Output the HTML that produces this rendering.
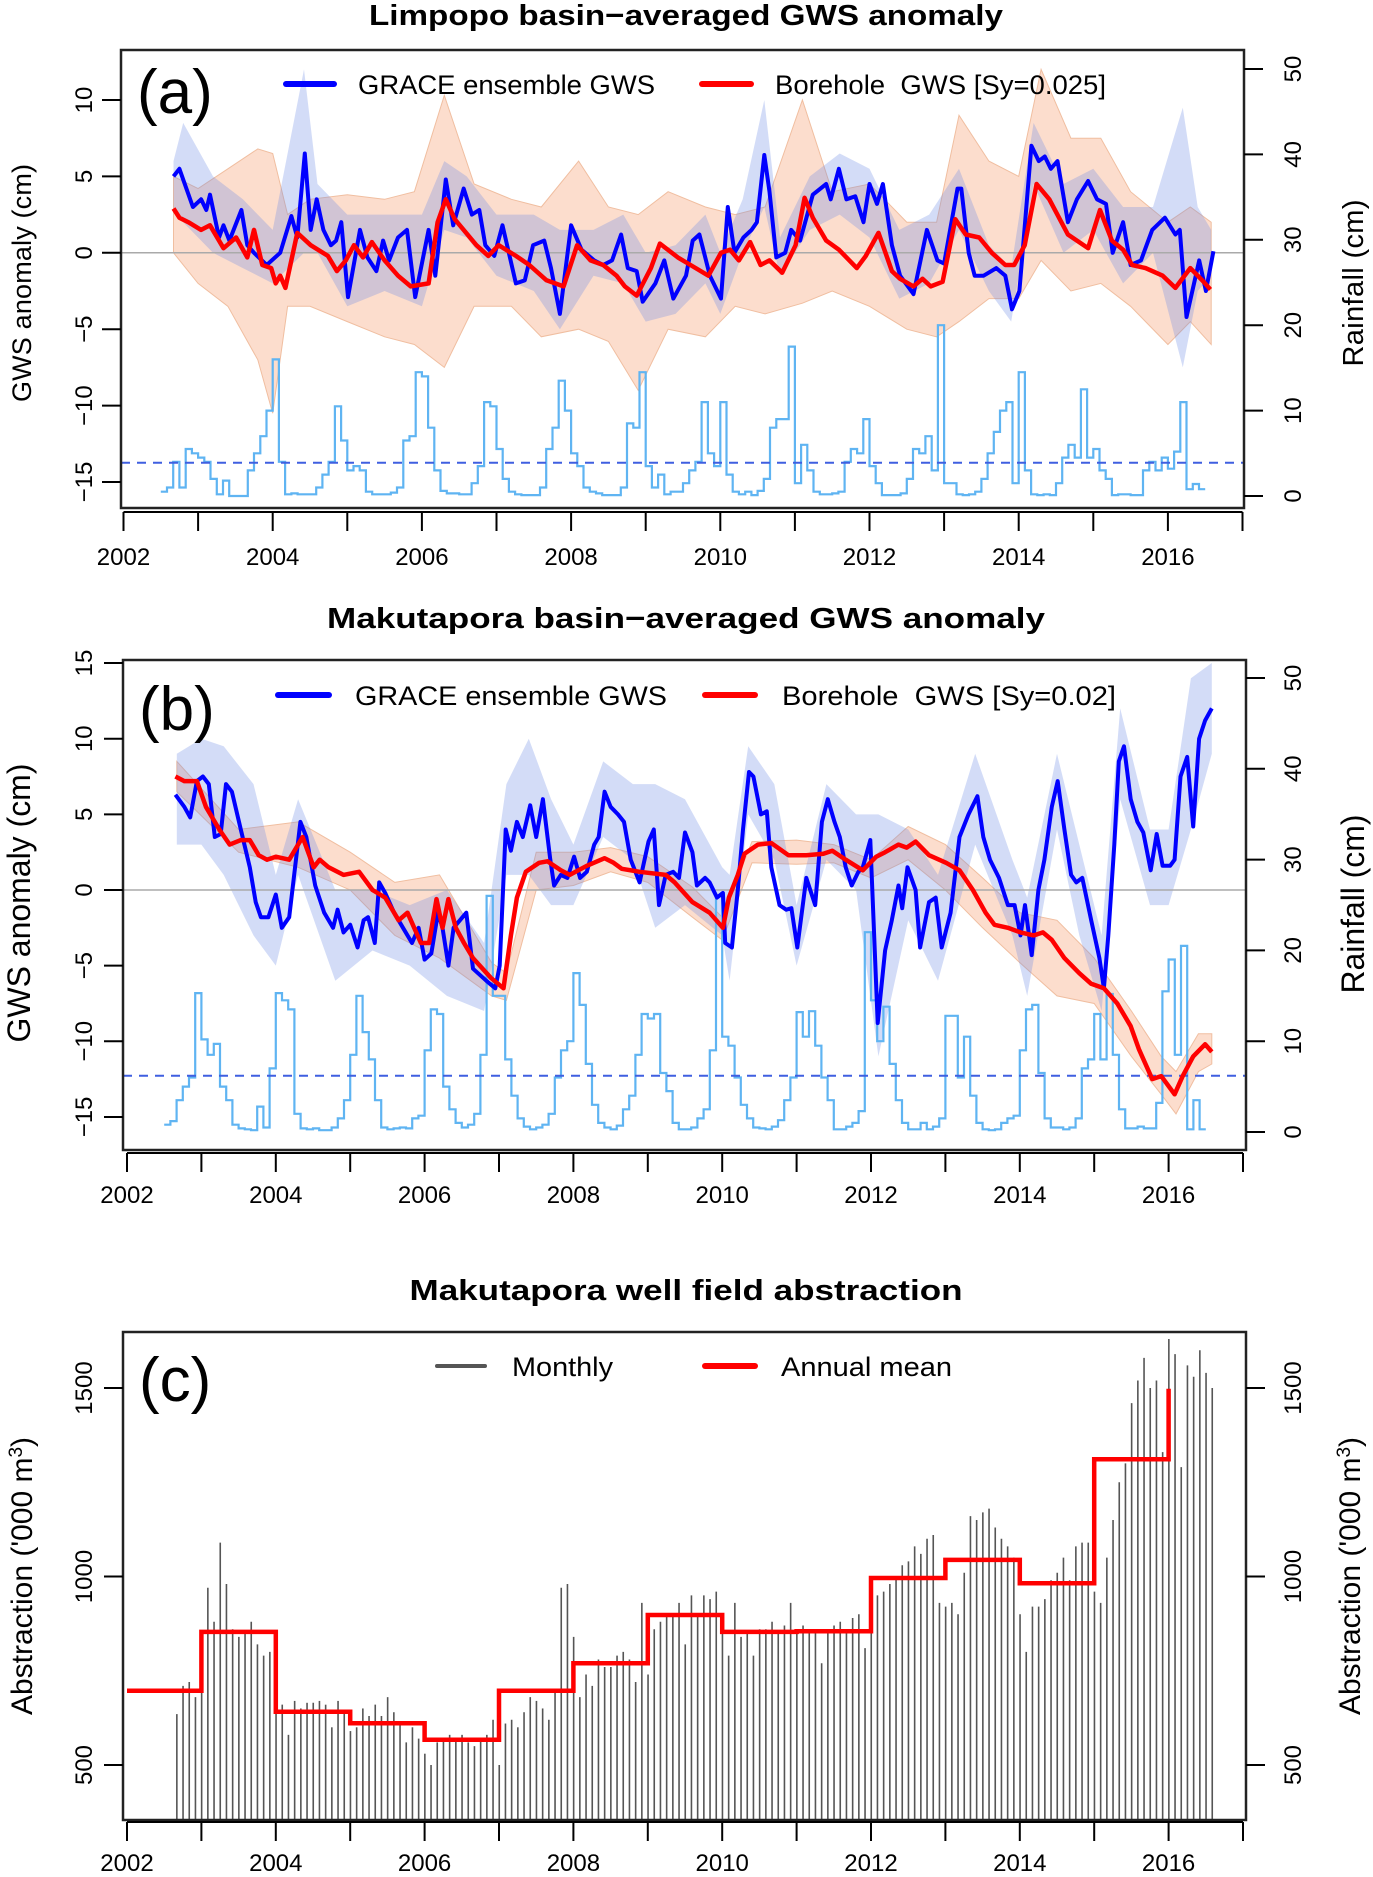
<!DOCTYPE html>
<html><head><meta charset="utf-8"><title>GWS anomaly figure</title>
<style>
html,body{margin:0;padding:0;background:#fff;}
svg{display:block;font-family:"Liberation Sans",Arial,sans-serif;}
text{white-space:pre;}
</style></head>
<body>
<svg id="fig" width="1373" height="1877" viewBox="0 0 1373 1877" xmlns="http://www.w3.org/2000/svg">
<defs>
<clipPath id="clipA"><rect x="121" y="50" width="1123" height="458"/></clipPath>
<clipPath id="clipB"><rect x="123" y="660" width="1123" height="490"/></clipPath>
<clipPath id="clipC"><rect x="123" y="1332" width="1123" height="488"/></clipPath>
</defs>
</svg>
<script>
// ---------- Panel (a) Limpopo data ----------
const limBlueT=[2002.67,2002.75,2002.93,2003.04,2003.11,2003.16,2003.28,2003.34,2003.42,2003.58,2003.66,2003.75,2003.92,2004.10,2004.25,2004.33,2004.43,2004.51,2004.59,2004.68,2004.78,2004.85,2004.92,2005.01,2005.17,2005.27,2005.39,2005.48,2005.56,2005.68,2005.80,2005.91,2006.09,2006.18,2006.32,2006.42,2006.56,2006.67,2006.77,2006.85,2006.97,2007.08,2007.26,2007.38,2007.49,2007.64,2007.73,2007.85,2008.00,2008.14,2008.31,2008.43,2008.55,2008.67,2008.76,2008.88,2008.96,2009.13,2009.25,2009.37,2009.54,2009.63,2009.72,2009.86,2010.01,2010.10,2010.19,2010.31,2010.42,2010.49,2010.59,2010.66,2010.75,2010.87,2010.95,2011.07,2011.24,2011.42,2011.48,2011.59,2011.69,2011.81,2011.92,2012.00,2012.10,2012.18,2012.30,2012.41,2012.59,2012.77,2012.91,2013.00,2013.18,2013.23,2013.33,2013.41,2013.53,2013.70,2013.82,2013.91,2014.01,2014.17,2014.27,2014.35,2014.43,2014.52,2014.66,2014.78,2014.93,2015.05,2015.17,2015.26,2015.40,2015.50,2015.64,2015.79,2015.96,2016.10,2016.16,2016.25,2016.42,2016.51,2016.61];
const limBlueV=[5,5.5,3,3.5,2.8,3.8,1,1.8,0.8,2.8,0.5,0,-0.8,0,2.4,1,6.5,1.5,3.5,1.5,0.5,0.8,2,-2.9,1.5,-0.3,-1.2,0.8,-0.5,1,1.5,-2.9,1.5,-1.5,4.8,1.8,4.2,2.5,2.8,0.5,-0.2,1.8,-2,-1.8,0.5,0.8,-1,-4,1.8,0.2,-0.5,-0.8,-0.5,1.2,-1,-1.2,-3.2,-2,-0.5,-3,-1.5,0.8,1.2,-1.5,-3,3,0,1,1.5,2,6.4,4,-0.3,0,1.5,0.8,3.8,4.5,3.5,5.5,3.5,3.7,2,4.5,3.2,4.5,0.5,-1.5,-2.7,1.5,-0.5,-0.7,4.2,4.2,0,-1.5,-1.5,-1,-1.5,-3.7,-2.5,7,6,6.3,5.5,6,2,3.5,4.7,3.5,3.2,0,2,-0.8,-0.5,1.5,2.3,1.2,1.5,-4.2,-0.5,-2.5,0.1];
const limRedT=[2002.67,2002.75,2002.87,2003.04,2003.16,2003.34,2003.51,2003.66,2003.75,2003.86,2003.98,2004.04,2004.10,2004.17,2004.33,2004.51,2004.74,2004.86,2004.98,2005.09,2005.21,2005.33,2005.50,2005.68,2005.85,2006.09,2006.21,2006.32,2006.44,2006.73,2006.89,2007.03,2007.26,2007.44,2007.67,2007.90,2008.08,2008.26,2008.43,2008.61,2008.72,2008.88,2009.07,2009.19,2009.43,2009.60,2009.84,2010.01,2010.13,2010.25,2010.40,2010.54,2010.66,2010.83,2011.01,2011.13,2011.24,2011.42,2011.59,2011.83,2011.95,2012.12,2012.30,2012.41,2012.59,2012.71,2012.82,2012.98,2013.15,2013.29,2013.47,2013.64,2013.82,2013.94,2014.08,2014.24,2014.41,2014.66,2014.93,2015.09,2015.25,2015.40,2015.52,2015.70,2015.93,2016.10,2016.30,2016.46,2016.57];
const limRedV=[2.9,2.3,2,1.5,1.8,0.3,1,-0.3,1.5,-0.8,-1,-2,-1.5,-2.3,1.3,0.5,-0.2,-1.2,-0.5,0.5,-0.3,0.7,-0.5,-1.5,-2.2,-2,2,3.5,2.2,0.5,-0.2,0.5,-0.2,-0.8,-1.8,-2.2,0.5,-0.5,-0.8,-1.5,-2.2,-2.8,-1,0.6,-0.3,-0.8,-1.5,0,0.2,-0.5,0.7,-0.8,-0.5,-1.3,0.5,3.6,2.3,0.8,0.2,-1,-0.2,1.3,-1.2,-1.7,-2.2,-1.7,-2.2,-1.9,2.2,1.2,1,0,-0.8,-0.8,0.5,4.5,3.5,1.2,0.3,2.8,0.8,0.2,-0.8,-1,-1.5,-2.3,-1,-1.8,-2.4];
const limRedBandT=[2002.67,2003.0,2003.4,2003.8,2004.0,2004.2,2004.5,2005.0,2005.5,2005.9,2006.3,2006.7,2007.2,2007.6,2008.1,2008.5,2008.9,2009.3,2009.8,2010.2,2010.6,2011.1,2011.5,2012.0,2012.5,2012.9,2013.2,2013.6,2014.0,2014.3,2014.7,2015.1,2015.5,2016.0,2016.3,2016.58];
const limRedBandHi=[5,4.2,5.5,6.8,6.5,2.5,3.5,3.8,3.5,4,10.3,4.5,3.5,3,6,3,2.5,4,3,2.5,3,10,4,4.5,2,2,9,6,5,12,7.5,7.5,4,2,3,2];
const limRedBandLo=[0,-2,-3.5,-7,-10.5,-3.5,-3.5,-4.5,-5.5,-6,-7.5,-3.5,-3.5,-5.5,-5,-5.8,-9,-5,-5.5,-3.5,-4,-3.3,-2.5,-3.5,-5,-5.5,-4.5,-3,-3,-0.5,-2.5,-2,-3.5,-6,-4.5,-6];
const limBlueBandT=[2002.67,2002.8,2003.2,2003.6,2004.0,2004.42,2004.6,2005.0,2005.5,2006.0,2006.3,2006.6,2007.0,2007.5,2007.85,2008.3,2008.7,2009.0,2009.4,2009.8,2010.0,2010.3,2010.59,2010.8,2011.2,2011.6,2012.0,2012.4,2012.8,2013.2,2013.6,2013.9,2014.2,2014.6,2015.0,2015.4,2015.8,2016.2,2016.4,2016.58];
const limBlueBandHi=[6,8.5,5,3.5,1.5,12,4.5,2.5,2.5,2.5,6,5,2.5,2.5,1.5,1.5,2.5,0,0.5,2.5,0,3.5,10,1,5,6.5,5.5,1.5,2.5,5.5,0.5,-1,8.5,4.5,5.5,3,3,9.5,3,1.5];
const limBlueBandLo=[3,2,0,-1,-2,0,0,-3.5,-2.5,-3.5,1.5,1,-1.5,-2.5,-5,-1.5,-2,-4.5,-4,-2,-4,0,3,-1.5,1.5,2.5,1,-3,-2,1.5,-2.5,-4.5,4.5,0,1.5,-2,0,-7.5,-2.5,-1.5];
const limRainStart=2002.5;
const limRain=[0.5,1,4,1,5.5,5,
4.5,4,2,0.2,1.8,0,0,0,3,5,7,10,
16,4,0.2,0.3,0.2,0.2,0.2,1,2.5,4,10.5,6.5,
3,3.5,3,0.5,0.2,0.2,0.2,0.4,1,6.5,7,14.5,
14,8,3,0.6,0.3,0.3,0.2,0.2,1.5,3.5,11,10.5,
5.5,2,0.5,0.2,0.1,0.1,0.1,1,5.5,8,13.5,10,
5,3.5,1,0.5,0.3,0.1,0.1,0.1,1,8.5,8,14.5,
3.5,1,2.5,0.2,0.5,0.5,1.5,3,4,11,5,3.5,
11,2.5,0.5,0.2,0.5,0.1,0.6,2,8,9,9,17.5,
1.5,6,3,0.5,0.2,0.2,0.3,0.5,4,5.5,5,9,
3.5,1.5,0.1,0.1,0.1,0.3,2,5.5,5,7,3,20,
1.5,1.5,0.2,0.1,0.2,0.5,2,5,7.5,10,11,1.5,
14.5,3,0.2,0.1,0.2,0.1,1.5,4.5,6,4.5,12.5,4.5,
5.5,3,2,0.1,0.2,0.2,0.1,0.1,3,4,3,4.5,
3.2,5.2,11,0.8,1.4,0.8];
const limRainThreshold=3.9;

// ---------- Panel (b) Makutapora data ----------
const makBlueT=[2002.65,2002.77,2002.85,2002.94,2003.02,2003.10,2003.18,2003.26,2003.33,2003.41,2003.53,2003.65,2003.73,2003.80,2003.90,2004.00,2004.08,2004.18,2004.33,2004.41,2004.53,2004.65,2004.77,2004.83,2004.91,2005.00,2005.10,2005.18,2005.24,2005.33,2005.39,2005.47,2005.59,2005.71,2005.83,2005.92,2006.00,2006.09,2006.18,2006.24,2006.32,2006.39,2006.56,2006.65,2006.83,2006.95,2007.01,2007.09,2007.16,2007.24,2007.32,2007.42,2007.50,2007.59,2007.69,2007.74,2007.83,2007.92,2008.01,2008.09,2008.18,2008.28,2008.34,2008.42,2008.50,2008.60,2008.68,2008.77,2008.89,2009.01,2009.08,2009.15,2009.24,2009.34,2009.42,2009.50,2009.60,2009.66,2009.77,2009.83,2009.93,2010.01,2010.04,2010.13,2010.21,2010.28,2010.36,2010.42,2010.52,2010.60,2010.66,2010.77,2010.86,2010.93,2011.01,2011.13,2011.25,2011.34,2011.42,2011.51,2011.58,2011.66,2011.74,2011.83,2011.89,2011.99,2012.09,2012.19,2012.28,2012.37,2012.42,2012.49,2012.60,2012.66,2012.78,2012.87,2012.95,2013.07,2013.19,2013.31,2013.43,2013.51,2013.60,2013.72,2013.84,2013.93,2014.01,2014.07,2014.16,2014.25,2014.33,2014.43,2014.51,2014.60,2014.69,2014.76,2014.84,2014.96,2015.07,2015.13,2015.19,2015.27,2015.33,2015.40,2015.49,2015.58,2015.66,2015.76,2015.84,2015.92,2016.02,2016.08,2016.16,2016.25,2016.33,2016.41,2016.49,2016.58];
const makBlueV=[6.3,5.5,4.8,7.2,7.5,7,3.5,3.7,7,6.5,4,1.5,-0.8,-1.8,-1.8,-0.3,-2.5,-1.8,4.5,3.5,0.3,-1.5,-2.5,-1.3,-2.8,-2.3,-3.8,-2,-1.8,-3.5,0.5,-0.2,-1.5,-2.5,-3.5,-2.5,-4.6,-4.2,-1.5,-2.5,-5,-2.5,-1.5,-5.2,-6,-6.5,-5,4,2.6,4.5,3.5,5.6,3.5,6,2,0.3,1,0.8,2.2,0.8,1.2,3,3.5,6.5,5.5,5,4.5,2,0.5,3.2,4,-1,1,1.2,0.8,3.8,2.5,0.3,0.8,0.5,-0.5,-0.2,-3.5,-3.8,0,4,7.8,7.5,5,5.2,1.5,-1,-1.3,-1.2,-3.8,0.8,-1,4.5,6,4.5,3.5,1.5,0.3,1.2,1.5,3.3,-8.8,-4,-2,0.3,-1.2,1.5,0,-3.8,-0.8,-0.5,-3.8,-1.5,3.5,5,6.2,3.5,2,0.8,-1,-1,-3,-1,-4.3,0,2,5.5,7.2,4,1,0.5,0.8,-2,-4.5,-6.5,-3,3,8.5,9.5,6,4.5,3.8,1.3,3.7,1.6,1.6,2,7.5,8.8,4.2,10,11.2,12];
const makRedT=[2002.65,2002.77,2002.94,2003.06,2003.24,2003.38,2003.53,2003.65,2003.77,2003.88,2004.00,2004.18,2004.36,2004.51,2004.59,2004.71,2004.91,2005.12,2005.30,2005.47,2005.65,2005.77,2005.95,2006.06,2006.16,2006.24,2006.32,2006.42,2006.53,2006.65,2006.89,2007.06,2007.16,2007.24,2007.36,2007.54,2007.65,2007.83,2007.95,2008.18,2008.42,2008.54,2008.65,2008.89,2009.24,2009.36,2009.60,2009.83,2010.01,2010.09,2010.21,2010.30,2010.48,2010.66,2010.89,2011.13,2011.36,2011.48,2011.66,2011.89,2012.07,2012.19,2012.37,2012.48,2012.60,2012.78,2013.01,2013.19,2013.37,2013.54,2013.66,2013.84,2014.01,2014.19,2014.31,2014.43,2014.60,2014.80,2014.96,2015.13,2015.31,2015.49,2015.60,2015.78,2015.90,2016.08,2016.19,2016.33,2016.49,2016.58];
const makRedV=[7.5,7.2,7.2,5.5,4,3,3.3,3.3,2.3,2,2.2,2,3.5,1.5,2,1.5,1,1.2,0,-0.5,-2,-1.5,-3.5,-3.5,-0.6,-2.5,-0.6,-2.5,-3.5,-4.5,-5.8,-6.5,-3,-0.5,1.2,1.8,1.9,1.3,1,1.6,2.1,1.8,1.4,1.2,1,0.5,-0.8,-1.5,-2.5,-0.5,1,2.4,3,3.1,2.3,2.3,2.4,2.6,2,1.3,2.2,2.5,3,2.8,3.2,2.3,1.8,1.3,0,-1.5,-2.3,-2.5,-2.8,-3,-2.8,-3.3,-4.5,-5.5,-6.2,-6.5,-7.5,-9,-10.5,-12.5,-12.3,-13.5,-12.3,-11,-10.2,-10.7];
const makRedBandT=[2002.67,2003.5,2004.3,2005.0,2005.6,2006.2,2006.9,2007.1,2007.5,2008.0,2008.5,2009.0,2009.6,2010.0,2010.4,2011.0,2011.5,2012.0,2012.5,2013.0,2013.5,2014.0,2014.5,2015.0,2015.5,2015.9,2016.1,2016.4,2016.58];
const makRedBandHi=[8.5,4,4.5,2.5,0.5,1,-4.8,-5.5,2.5,2.5,2.8,2.2,0.2,-1.8,3.2,3.3,3,2,4.2,3,0.8,-1.5,-2,-4.5,-8,-11,-12,-9.5,-9.5];
const makRedBandLo=[6.5,2.5,1.5,0,-3,-4.5,-7,-7.3,0,0.3,1.2,0.5,-1.8,-3.3,1.8,1.7,1.8,0.8,2,0,-2.5,-4.8,-7,-7.5,-11,-13.5,-14.8,-12,-11.5];
const makBlueBandT=[2002.67,2003.0,2003.3,2003.7,2004.0,2004.3,2004.8,2005.3,2005.8,2006.3,2006.8,2007.1,2007.4,2007.7,2008.0,2008.4,2008.8,2009.1,2009.5,2010.0,2010.1,2010.35,2010.7,2011.0,2011.4,2011.8,2012.1,2012.5,2012.9,2013.4,2013.9,2014.1,2014.5,2014.8,2015.1,2015.35,2015.75,2016.0,2016.3,2016.58];
const makBlueBandHi=[9,10,9.5,7,1,6,0,0,-1,0,-3.5,7,10,6,3,8.5,7,7,6,1.5,1,9.5,7,-1,7,5,5,4,1,9,2,-0.5,9,3,-3,12,4,4,14,15];
const makBlueBandLo=[3,3,1,-3,-5,1,-6,-4,-5,-7,-8,1,1,-1,-1,3.5,2,-2.5,-1,-3,-6,5,2,-5,2,0,-11,-2,-6,3,-3,-7,4,-3,-8,6,-1,-1,4,9];
const makRainStart=2002.5;
const makRain=[0.8,1.2,3.5,5,6,15.3,
10.2,8.5,9.7,5,3.5,0.8,0.4,0.3,0.2,2.8,0.5,7,
15.3,14.5,13.5,2,0.4,0.3,0.4,0.2,0.2,0.5,1.5,3.5,
8.5,15,11,8,3.5,0.5,0.3,0.4,0.5,0.4,1.5,1.8,
9,13.5,13,5,2.5,1,0.5,0.8,2,8.5,26,15,
15,8,4,1.5,0.6,0.3,0.5,0.8,2,6,9,10,
17.5,14,7.5,3,1,0.5,0.3,0.7,2.5,4,8.5,13,
12.5,13,6.5,4.5,1,0.3,0.3,0.5,1.5,2.5,9,26,
10.5,9.5,6,3,1.5,0.5,0.4,0.3,0.6,1.3,3.5,6,
13.2,10.5,13.3,9.5,6,3.5,0.3,0.3,0.6,1,2.3,22,
14.5,10,13.8,7.5,3.5,1,0.3,0.3,1,0.3,0.6,1.5,
12.8,12.8,6,10.5,4,1,0.3,0.2,0.3,1,1.5,1.8,
9,13.5,14,6.5,1.5,0.5,0.5,0.3,0.5,1.5,7,8,
13,8,15.2,8.5,2.5,0.4,0.4,0.6,0.4,0.4,3.2,15.5,
19,8.5,20.5,0.3,3.5,0.3];
const makRainThreshold=6.2;

// ---------- Panel (c) abstraction data ----------
const absStart=2002.67;
const absMonthly=[635,710,720,680,
780,970,880,1090,980,860,840,850,880,820,790,800,
700,660,580,670,650,665,665,670,660,600,670,640,
590,600,650,630,660,630,680,640,610,560,600,570,
530,500,560,570,580,570,580,560,550,570,580,620,
500,610,620,600,640,680,670,650,620,700,970,980,
840,680,740,710,780,760,760,790,800,780,720,930,
740,860,880,900,900,930,820,950,900,950,940,960,
880,790,930,840,850,790,860,860,880,850,870,930,
850,870,860,860,770,860,870,880,860,890,900,810,
920,950,960,980,1000,1030,1040,1080,1060,1100,1110,930,
920,930,900,1010,1160,1150,1170,1180,1130,1100,1080,1050,
900,800,920,920,940,990,1010,1050,990,1080,1090,1090,
960,930,1050,1150,1250,1300,1460,1520,1580,1500,1520,1330,
1630,1590,1290,1560,1530,1600,1540,1500];
const annualYears=[2002,2003,2004,2005,2006,2007,2008,2009,2010,2011,2012,2013,2014,2015,2016];
const annualMean=[697,853,641,611,567,697,770,898,853,855,996,1044,982,1311,1498];

const xYears=[2002,2003,2004,2005,2006,2007,2008,2009,2010,2011,2012,2013,2014,2015,2016,2017];
const xLabels=["2002","2004","2006","2008","2010","2012","2014","2016"];
const gwsTicksA=[10,5,0,-5,-10,-15];
const gwsTicksB=[15,10,5,0,-5,-10,-15];
const rainTicks=[50,40,30,20,10,0];
const absTicks=[1500,1000,500];

// ---------- drawing ----------
const NS='http://www.w3.org/2000/svg';
const svg=document.getElementById('fig');
function el(tag,attrs,parent){const e=document.createElementNS(NS,tag);for(const k in attrs)e.setAttribute(k,attrs[k]);(parent||svg).appendChild(e);return e;}
function txt(str,attrs,parent){const t=el('text',attrs,parent);t.textContent=str;return t;}

const P={
 a:{x0:123.5,ppy:74.6,yz:252.8,ppc:15.28,rz:496,ppr:8.54,L:121,R:1244,T:50,B:508,tickY:512,labY:565,clip:'clipA'},
 b:{x0:127,ppy:74.4,yz:890,ppc:15.13,rz:1132,ppr:9.08,L:123,R:1246,T:660,B:1150,tickY:1153,labY:1203,clip:'clipB'},
 c:{x0:127,ppy:74.4,L:123,R:1246,T:1332,B:1820,tickY:1822,labY:1871,clip:'clipC'}
};
function X(p,t){return p.x0+(t-2002)*p.ppy;}
function Y(p,v){return p.yz-v*p.ppc;}
function YR(p,r){return p.rz-r*p.ppr;}
function YA(v){return 1388+(1500-v)*0.377;}

function linePath(p,ts,vs,f){let d='';for(let i=0;i<ts.length;i++){d+=(i?'L':'M')+X(p,ts[i]).toFixed(1)+' '+f(vs[i]).toFixed(1);}return d;}
function bandPath(p,ts,hi,lo){let d='';for(let i=0;i<ts.length;i++)d+=(i?'L':'M')+X(p,ts[i]).toFixed(1)+' '+Y(p,hi[i]).toFixed(1);for(let i=ts.length-1;i>=0;i--)d+='L'+X(p,ts[i]).toFixed(1)+' '+Y(p,lo[i]).toFixed(1);return d+'Z';}
function stepPath(p,start,vals){let d='M'+X(p,start).toFixed(1)+' '+YR(p,vals[0]).toFixed(1);for(let i=1;i<vals.length;i++){d+='H'+X(p,start+i/12).toFixed(1)+'V'+YR(p,vals[i]).toFixed(1);}d+='H'+X(p,start+vals.length/12).toFixed(1);return d;}

function title(str,y,len){const t=txt(str,{x:686,y:y,'text-anchor':'middle','font-size':29,'font-weight':'bold',textLength:len,lengthAdjust:'spacingAndGlyphs'});return t;}
function xAxis(p){
 el('line',{x1:X(p,2002),x2:X(p,2017),y1:p.tickY,y2:p.tickY,stroke:'#000','stroke-width':2});
 for(const yr of xYears){const tk=el('line',{x1:X(p,yr),x2:X(p,yr),y1:p.tickY,y2:p.tickY+19,stroke:'#000','stroke-width':2});
 
 }
 for(const lab of xLabels){const t=txt(lab,{x:X(p,+lab),y:p.labY,'text-anchor':'middle','font-size':24});
 
 }
}
function rotLabel(str,cx,cy,size){return txt(str,{x:0,y:0,transform:`translate(${cx},${cy}) rotate(-90)`,'text-anchor':'middle','font-size':size});}
function yTicksLeft(p,ticks,f){
 for(const v of ticks){const y=f(v);el('line',{x1:p.L-19,x2:p.L,y1:y,y2:y,stroke:'#000','stroke-width':2});
 const t=rotLabel(String(v).replace('-','\u2212'),92,y,24);
 
 }
}
function yTicksRight(p,ticks,f){
 for(const v of ticks){const y=f(v);el('line',{x1:p.R,x2:p.R+19,y1:y,y2:y,stroke:'#000','stroke-width':2});
 const t=rotLabel(String(v),1301,y,24);
 
 }
}
function box(p){const r=el('rect',{x:p.L,y:p.T,width:p.R-p.L,height:p.B-p.T,fill:'none',stroke:'#222','stroke-width':2.5});}

function gwsPanel(p,key,d){
 const g=el('g',{'clip-path':`url(#${p.clip})`});
 
 
 const rb=el('path',{d:bandPath(p,d.rbT,d.rbHi,d.rbLo),fill:'rgb(247,170,130)','fill-opacity':0.4,stroke:'rgb(240,190,160)','stroke-width':1},g);
 
 
 const bb=el('path',{d:bandPath(p,d.bbT,d.bbHi,d.bbLo),fill:'rgb(110,140,230)','fill-opacity':0.3,stroke:'none'},g);
 
 
 const z=el('line',{x1:p.L,x2:p.R,y1:Y(p,0),y2:Y(p,0),stroke:'#aaa','stroke-width':1.5},g);
 
 
 const rs=el('path',{d:stepPath(p,d.rainStart,d.rain),fill:'none',stroke:'#5fb4f2','stroke-width':2.2},g);
 
 
 const th=el('line',{x1:p.L,x2:p.R,y1:YR(p,d.thr),y2:YR(p,d.thr),stroke:'#3f5fe0','stroke-width':2,'stroke-dasharray':'9 7'},g);
 
 
 const bl=el('path',{d:linePath(p,d.bT,d.bV,v=>Y(p,v)),fill:'none',stroke:'#0000ff','stroke-width':4,'stroke-linejoin':'round'},g);
 
 
 const rl=el('path',{d:linePath(p,d.rT,d.rV,v=>Y(p,v)),fill:'none',stroke:'#ff0000','stroke-width':4.5,'stroke-linejoin':'round'},g);
 
 
}

// Titles
const tA=title('Limpopo basin\u2212averaged GWS anomaly',25,634);


const tB=title('Makutapora basin\u2212averaged GWS anomaly',628,718);


const tC=title('Makutapora well field abstraction',1300,553);



// Panel a
gwsPanel(P.a,'panel-a',{rbT:limRedBandT,rbHi:limRedBandHi,rbLo:limRedBandLo,bbT:limBlueBandT,bbHi:limBlueBandHi,bbLo:limBlueBandLo,rainStart:limRainStart,rain:limRain,thr:limRainThreshold,bT:limBlueT,bV:limBlueV,rT:limRedT,rV:limRedV});
box(P.a);xAxis(P.a);
yTicksLeft(P.a,gwsTicksA,v=>Y(P.a,v));
yTicksRight(P.a,rainTicks,r=>YR(P.a,r));
// Panel b
gwsPanel(P.b,'panel-b',{rbT:makRedBandT,rbHi:makRedBandHi,rbLo:makRedBandLo,bbT:makBlueBandT,bbHi:makBlueBandHi,bbLo:makBlueBandLo,rainStart:makRainStart,rain:makRain,thr:makRainThreshold,bT:makBlueT,bV:makBlueV,rT:makRedT,rV:makRedV});
box(P.b);xAxis(P.b);
yTicksLeft(P.b,gwsTicksB,v=>Y(P.b,v));
yTicksRight(P.b,rainTicks,r=>YR(P.b,r));

// Axis titles
let at;
at=rotLabel('GWS anomaly (cm)',31,283,27);at.setAttribute('textLength',238);


at=rotLabel('Rainfall (cm)',1363,283,29);at.setAttribute('textLength',167);


at=rotLabel('GWS anomaly (cm)',30,903,32);at.setAttribute('textLength',279);


at=rotLabel('Rainfall (cm)',1364,904,32);at.setAttribute('textLength',179);



// Panel c
const pc=P.c;
const gc=el('g',{'clip-path':'url(#clipC)'});


for(let i=0;i<absMonthly.length;i++){const x=X(pc,absStart+i/12);
 const b=el('line',{x1:x,x2:x,y1:pc.B,y2:YA(absMonthly[i]),stroke:'#555','stroke-width':1.6},gc);
 
 }
let sd='M'+X(pc,annualYears[0]).toFixed(1)+' '+YA(annualMean[0]).toFixed(1);
for(let i=1;i<annualYears.length;i++)sd+='H'+X(pc,annualYears[i]).toFixed(1)+'V'+YA(annualMean[i]).toFixed(1);
const am=el('path',{d:sd,fill:'none',stroke:'#ff0000','stroke-width':4.5},gc);


box(pc);xAxis(pc);
yTicksLeft(pc,absTicks,YA);
yTicksRight(pc,absTicks,YA);
function absTitle(cx){const t=txt('',{x:0,y:0,transform:`translate(${cx},1576) rotate(-90)`,'text-anchor':'middle','font-size':30});
 const a=el('tspan',{},t);a.textContent="Abstraction ('000 m";
 const s=el('tspan',{'baseline-shift':'super','font-size':19},t);s.textContent='3';
 const c=el('tspan',{},t);c.textContent=')';return t;}
at=absTitle(32);


at=absTitle(1360);



// Panel letters
let pl;
pl=txt('(a)',{x:137,y:113,'font-size':62});
pl=txt('(b)',{x:139,y:730,'font-size':62});
pl=txt('(c)',{x:139,y:1401,'font-size':62});

// Legends
function legend(x1,x2,y,color,w,label,tx,tlen){
 const g=el('g',{});
 
 
 el('line',{x1:x1,x2:x2,y1:y,y2:y,stroke:color,'stroke-width':w,'stroke-linecap':'round'},g);
 txt(label,{x:tx,y:y+10,'font-size':27,textLength:tlen,lengthAdjust:'spacingAndGlyphs'},g);
}
legend(286,334,84,'#0000ff',6,'GRACE ensemble GWS',358,297);
legend(702,751,84,'#ff0000',6,'Borehole  GWS [Sy=0.025]',775,331);
legend(278,329,695,'#0000ff',6,'GRACE ensemble GWS',355,312);
legend(705,755,695,'#ff0000',6,'Borehole  GWS [Sy=0.02]',782,334);
legend(437,485,1366,'#555555',4,'Monthly',512,101);
legend(705,755,1366,'#ff0000',6,'Annual mean',781,171);
</script>
</body></html>
